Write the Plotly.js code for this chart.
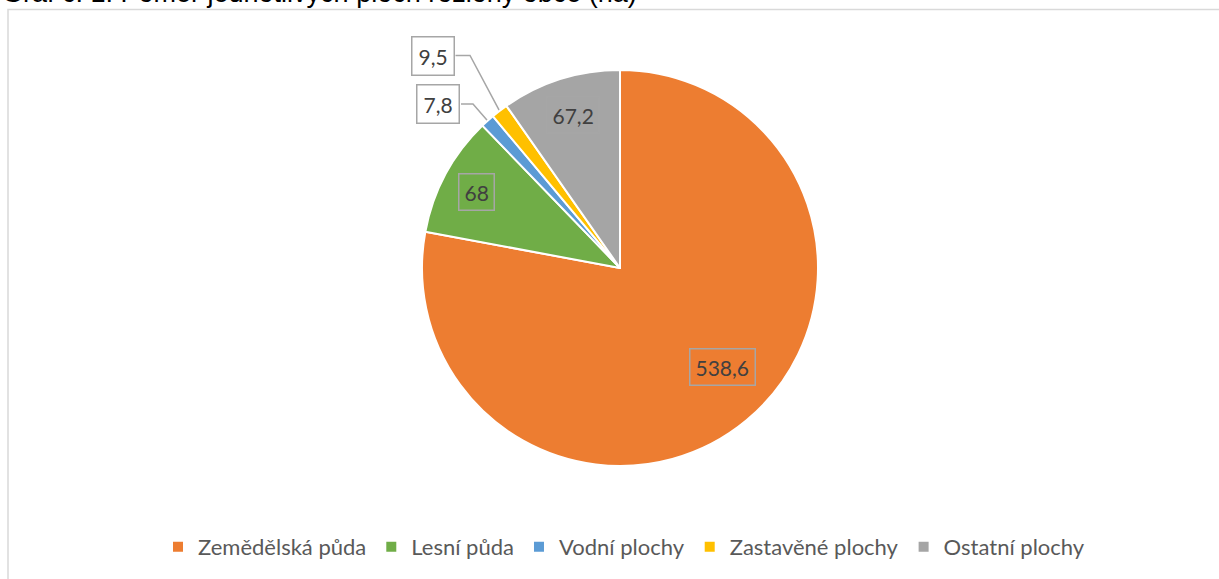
<!DOCTYPE html>
<html>
<head>
<meta charset="utf-8">
<script src="https://cdn.plot.ly/plotly-3.0.1.min.js"></script>
<style>html,body{margin:0;padding:0;background:#fff;}#chart{width:1219px;height:579px;}</style>
</head>
<body>
<div id="chart"></div>
<script>
// ---- data ----
const categories = ["Zemědělská půda", "Lesní půda", "Vodní plochy", "Zastavěné plochy", "Ostatní plochy"];
const values = [538.6, 68, 7.8, 9.5, 67.2];
const labelsText = ["538,6", "68", "7,8", "9,5", "67,2"];
const colors = ["#ED7D31", "#70AD47", "#5B9BD5", "#FFC000", "#A5A5A5"];
const chartTitle = "Graf č. 1: Poměr jednotlivých ploch rozlohy obce (ha)";

// ---- layout geometry (pixels) ----
const W = 1219, H = 579;
const CX = 620, CY = 268, R = 198;
const px = x => x / W;
const py = y => 1 - y / H;

// label placement style: inside fraction + pixel nudge, or outside box position
const insideFrac = [0.73, 0.81, null, null, 0.79];
const nudge = [[10, -12], [-2, 0], null, null, [0, -4]];
const outsideBox = [null, null, {x: 438, y: 104, elbow: 473}, {x: 432.5, y: 55.5, elbow: 470}, null];

const total = values.reduce((a, b) => a + b, 0);
const annotations = [];
const shapes = [];
const labelFont = {family: 'Lato, "Noto Sans", sans-serif', size: 21, color: '#404040'};

let cum = 0;
values.forEach((v, i) => {
  const a0 = cum / total * 2 * Math.PI;
  cum += v;
  const a1 = cum / total * 2 * Math.PI;
  const mid = (a0 + a1) / 2;
  const sx = Math.sin(mid), sy = -Math.cos(mid);
  if (insideFrac[i] !== null) {
    const x = CX + insideFrac[i] * R * sx + nudge[i][0];
    const y = CY + insideFrac[i] * R * sy + nudge[i][1];
    annotations.push({
      x: px(x), y: py(y), xref: 'paper', yref: 'paper', showarrow: false,
      text: labelsText[i], xanchor: 'center', yanchor: 'middle',
      font: labelFont,
      bordercolor: '#A6A6A6', borderwidth: 1.5, borderpad: 5
    });
  } else {
    const b = outsideBox[i];
    const ex = CX + R * sx, ey = CY + R * sy;
    annotations.push({
      x: px(b.x), y: py(b.y), xref: 'paper', yref: 'paper', showarrow: false,
      text: labelsText[i], xanchor: 'center', yanchor: 'middle',
      font: labelFont,
      bgcolor: '#FFFFFF', bordercolor: '#A6A6A6', borderwidth: 1.5, borderpad: 6
    });
    const bx = b.x + 23;
    shapes.push({
      type: 'path', xref: 'paper', yref: 'paper',
      path: `M ${px(ex)} ${py(ey)} L ${px(b.elbow)} ${py(b.y)} L ${px(bx)} ${py(b.y)}`,
      line: {color: '#A6A6A6', width: 1.5}, layer: 'below'
    });
  }
});

// title (partially cut at top, as in the reference)
annotations.push({
  x: 0, y: py(-7), xref: 'paper', yref: 'paper', showarrow: false,
  text: chartTitle, xanchor: 'left', yanchor: 'middle',
  font: {family: '"Liberation Sans", Arial, sans-serif', size: 27, color: '#000000'}
});

// chart frame
shapes.push({
  type: 'rect', xref: 'paper', yref: 'paper',
  x0: px(8), y0: py(H + 10), x1: px(W + 10), y1: py(9.5),
  line: {color: '#D9D9D9', width: 1.5}, fillcolor: 'rgba(0,0,0,0)', layer: 'below'
});

const trace = {
  type: 'pie',
  labels: categories,
  values: values,
  sort: false,
  direction: 'clockwise',
  rotation: 0,
  textinfo: 'none',
  hoverinfo: 'label+value',
  marker: {colors: colors, line: {color: '#FFFFFF', width: 2}},
  domain: {x: [px(CX - R), px(CX + R)], y: [py(CY + R), py(CY - R)]}
};

const layout = {
  width: W, height: H,
  margin: {l: 0, r: 0, t: 0, b: 0},
  paper_bgcolor: '#FFFFFF',
  showlegend: true,
  legend: {
    orientation: 'h', x: px(624), xanchor: 'center', y: py(547), yanchor: 'middle',
    font: {family: 'Lato, "Noto Sans", sans-serif', size: 22, color: '#595959'},
    itemgap: 31, traceorder: 'normal'
  },
  annotations: annotations,
  shapes: shapes
};

Plotly.newPlot('chart', [trace], layout, {displayModeBar: false, staticPlot: true});
</script>
</body>
</html>
